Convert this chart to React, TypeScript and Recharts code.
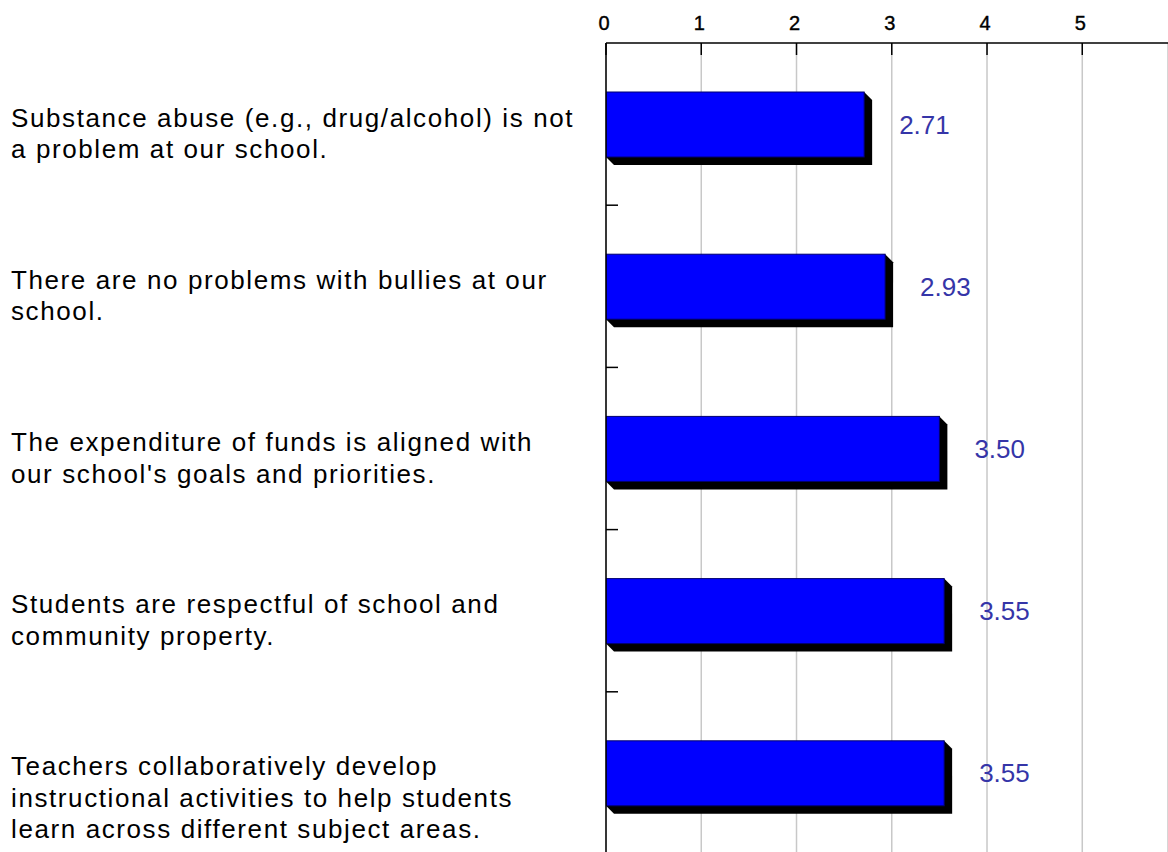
import React from "react";
import { BarChart, Bar, XAxis, YAxis, CartesianGrid, LabelList } from "recharts";

// statements, already wrapped the way the picture wraps them
const statementLines = [
  ["Substance abuse (e.g., drug/alcohol) is not", "a problem at our school."],
  ["There are no problems with bullies at our", "school."],
  ["The expenditure of funds is aligned with", "our school's goals and priorities."],
  ["Students are respectful of school and", "community property."],
  [
    "Teachers collaboratively develop",
    "instructional activities to help students",
    "learn across different subject areas.",
  ],
];
const meanScores = [2.71, 2.93, 3.5, 3.55, 3.55];
const scaleTicks = [0, 1, 2, 3, 4, 5];

const FONT = "'Liberation Sans', Arial, sans-serif";
const BAND_HALF = 81.1;

const data = statementLines.map((lines, i) => ({
  name: lines.join(" "),
  lines,
  score: meanScores[i],
}));

// top axis: number label plus a short tick pointing into the plot
function ScaleTick(props: any) {
  const { x, y, payload } = props;
  const axisY = y + 13;
  return (
    <g>
      <line x1={x} y1={axisY} x2={x} y2={axisY + 12} stroke="#000" strokeWidth={1.5} />
      <text
        x={x - 2}
        y={y}
        textAnchor="middle"
        style={{ fontSize: 20, fontFamily: FONT }}
        fill="#000"
        stroke="#000"
        strokeWidth={0.4}
      >
        {payload.value}
      </text>
    </g>
  );
}

// left axis: wrapped statement + tick at the band boundary
function StatementTick(props: any) {
  const { y, payload, index } = props;
  const half = payload && payload.offset ? payload.offset : BAND_HALF;
  const lines = data[index] ? data[index].lines : [String(payload.value)];
  const last = index === data.length - 1;
  return (
    <g>
      {!last && (
        <line x1={606} y1={y + half} x2={618} y2={y + half} stroke="#000" strokeWidth={1.5} />
      )}
      <text
        x={11}
        y={y + 2.5}
        fontSize={26}
        fontFamily={FONT}
        letterSpacing={1.6}
        fill="#000"
      >
        {lines.map((ln: string, i: number) => (
          <tspan key={i} x={11} dy={i === 0 ? 0 : 31.5}>
            {ln}
          </tspan>
        ))}
      </text>
    </g>
  );
}

function ShadowBar(props: any) {
  const { x, y, width, height } = props;
  const d = 8;
  const shadow = `M${x + width},${y} L${x + width + d},${y + d} L${x + width + d},${y + height + d} L${x + d},${y + height + d} L${x},${y + height} Z`;
  return (
    <g>
      <path d={shadow} fill="#000" />
      <rect x={x} y={y} width={width} height={height} fill="#0000ff" stroke="#000070" strokeWidth={1} />
    </g>
  );
}

function ValueLabel(props: any) {
  const { x, y, width, height, value } = props;
  return (
    <text
      x={x + width + 35}
      y={y + height / 2}
      dominantBaseline="central"
      fontSize={26}
      fontFamily={FONT}
      fill="#3535a8"
    >
      {Number(value).toFixed(2)}
    </text>
  );
}

export default function App() {
  return (
    <div
      style={{
        position: "absolute",
        left: 0,
        top: 0,
        width: 1168,
        height: 852,
        overflow: "hidden",
        background: "#fff",
      }}
    >
      <BarChart
        width={1168}
        height={870}
        data={data}
        layout="vertical"
        margin={{ top: 0, right: 0, bottom: 16, left: 0 }}
        barCategoryGap={0}
      >
        <CartesianGrid horizontal={false} stroke="#c8c8c8" strokeWidth={1.5} />
        <XAxis
          type="number"
          orientation="top"
          domain={[0, 5.9]}
          ticks={scaleTicks}
          height={43}
          axisLine={{ stroke: "#000", strokeWidth: 1.5 }}
          tickLine={false}
          tickSize={0}
          tickMargin={13}
          tick={<ScaleTick />}
          allowDataOverflow
        />
        <YAxis
          type="category"
          dataKey="name"
          width={606}
          interval={0}
          axisLine={{ stroke: "#000", strokeWidth: 1.5 }}
          tickLine={false}
          tick={<StatementTick />}
        />
        <Bar dataKey="score" barSize={65} shape={<ShadowBar />} isAnimationActive={false}>
          <LabelList dataKey="score" content={<ValueLabel />} />
        </Bar>
      </BarChart>
    </div>
  );
}
